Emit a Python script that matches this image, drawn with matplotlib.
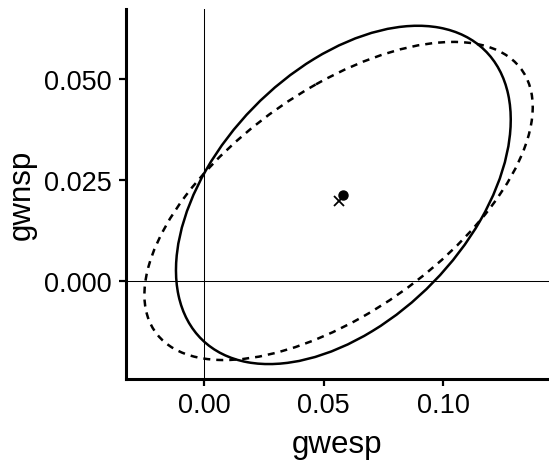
import numpy as np
import matplotlib
matplotlib.use("Agg")
import matplotlib.pyplot as plt
from matplotlib.patches import Ellipse

plt.rcParams['font.family'] = ['Liberation Sans', 'DejaVu Sans']

# two estimates: center, sd of each axis and correlation
names = ['solid', 'dashed']
center_x = [0.0582, 0.0562]
center_y = [0.0214, 0.0199]
sd_x = [0.0700, 0.0812]
sd_y = [0.0419, 0.0394]
corr = [0.445, 0.59]
styles = ['-', (0, (2.8, 2.4))]
markers = ['o', 'x']

xticks = [0.00, 0.05, 0.10]
yticks = [0.000, 0.025, 0.050]


def cov_ellipse(cx, cy, sx, sy, r, **kw):
    cov = np.array([[sx * sx, r * sx * sy], [r * sx * sy, sy * sy]])
    vals, vecs = np.linalg.eigh(cov)
    order = vals.argsort()[::-1]
    vals, vecs = vals[order], vecs[:, order]
    ang = np.degrees(np.arctan2(vecs[1, 0], vecs[0, 0]))
    return Ellipse((cx, cy), 2 * np.sqrt(vals[0]), 2 * np.sqrt(vals[1]),
                   angle=ang, fill=False, **kw)


fig = plt.figure(figsize=(5.49, 4.64), dpi=100)
ax = fig.add_axes([0.2295, 0.181, 0.7705, 0.797])

ax.axhline(0, color='black', lw=0.75, zorder=1)
ax.axvline(0, color='black', lw=0.75, zorder=1)

for i in range(len(names)):
    ax.add_patch(cov_ellipse(center_x[i], center_y[i], sd_x[i], sd_y[i], corr[i],
                             edgecolor='black', lw=1.8, ls=styles[i], zorder=2))
    if markers[i] == 'o':
        ax.plot(center_x[i], center_y[i], 'o', color='black', ms=6.5, zorder=3)
    else:
        ax.plot(center_x[i], center_y[i], 'x', color='black', ms=7, mew=1.3, zorder=3)

ax.set_xlim(-0.0327, 0.1442)
ax.set_ylim(-0.0242, 0.0674)
ax.set_xticks(xticks)
ax.set_xticklabels(['%.2f' % v for v in xticks])
ax.set_yticks(yticks)
ax.set_yticklabels(['%.3f' % v for v in yticks])

for s in ['top', 'right']:
    ax.spines[s].set_visible(False)
for s in ['left', 'bottom']:
    ax.spines[s].set_linewidth(2.2)
ax.tick_params(axis='both', length=5, width=1.6, labelsize=19.5, colors='black')
ax.tick_params(axis='x', pad=4.5)
ax.tick_params(axis='y', pad=5.5)

ax.set_xlabel('gwesp', fontsize=22.5, labelpad=8)
ax.set_ylabel('gwnsp', fontsize=22.5, labelpad=5)

fig.savefig('out.png', dpi=100)
